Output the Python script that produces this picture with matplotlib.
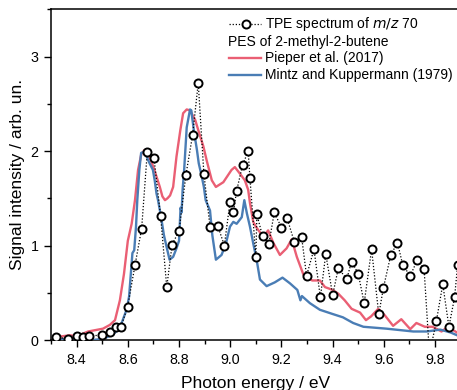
import matplotlib
matplotlib.use("Agg")
import matplotlib.pyplot as plt
from matplotlib.ticker import MultipleLocator, FormatStrFormatter

plt.rcParams['font.family'] = ['Liberation Sans', 'DejaVu Sans']

# TPE spectrum of m/z 70
tpe_x = [8.319, 8.366, 8.400, 8.426, 8.449, 8.498, 8.530, 8.555, 8.573, 8.599,
         8.628, 8.654, 8.676, 8.702, 8.728, 8.752, 8.773, 8.800, 8.827, 8.853,
         8.875, 8.897, 8.921, 8.951, 8.977, 8.999, 9.012, 9.025, 9.048, 9.070,
         9.077, 9.100, 9.104, 9.126, 9.151, 9.172, 9.200, 9.222, 9.250, 9.279,
         9.298, 9.327, 9.352, 9.373, 9.400, 9.422, 9.455, 9.474, 9.500, 9.523,
         9.552, 9.580, 9.598, 9.627, 9.653, 9.674, 9.703, 9.731, 9.757, 9.778,
         9.805, 9.830, 9.854, 9.876, 9.888]
tpe_y = [0.035, 0.01, 0.045, 0.035, 0.045, 0.05, 0.08, 0.14, 0.14, 0.35,
         0.79, 1.18, 1.99, 1.93, 1.31, 0.56, 1.01, 1.155, 1.75, 2.17,
         2.72, 1.76, 1.20, 1.21, 1.00, 1.46, 1.35, 1.58, 1.85, 2.00,
         1.71, 0.88, 1.33, 1.10, 1.02, 1.35, 1.19, 1.29, 1.04, 1.085,
         0.68, 0.96, 0.45, 0.91, 0.475, 0.76, 0.645, 0.83, 0.70, 0.39,
         0.96, 0.27, 0.55, 0.90, 1.03, 0.79, 0.68, 0.85, 0.75, -0.15,
         0.20, 0.59, 0.14, 0.45, 0.79]

# PES, Pieper et al. (2017)
pieper_x = [8.331, 8.374, 8.400, 8.445, 8.503, 8.530, 8.550, 8.569, 8.585, 8.600,
            8.615, 8.628, 8.640, 8.653, 8.665, 8.675, 8.700, 8.725, 8.735, 8.745,
            8.755, 8.765, 8.777, 8.790, 8.805, 8.816, 8.830, 8.843, 8.863, 8.882,
            8.895, 8.908, 8.928, 8.944, 8.973, 9.005, 9.018, 9.038, 9.057, 9.070,
            9.077, 9.090, 9.100, 9.116, 9.128, 9.148, 9.168, 9.194, 9.220, 9.240,
            9.260, 9.286, 9.320, 9.350, 9.370, 9.400, 9.422, 9.447, 9.474, 9.507,
            9.530, 9.550, 9.578, 9.604, 9.636, 9.668, 9.703, 9.727, 9.760, 9.790,
            9.825, 9.850, 9.885]
pieper_y = [0.035, 0.05, 0.04, 0.09, 0.12, 0.16, 0.21, 0.42, 0.70, 1.05,
            1.23, 1.48, 1.80, 1.97, 2.01, 2.00, 1.83, 1.62, 1.52, 1.48,
            1.50, 1.53, 1.62, 1.94, 2.22, 2.40, 2.44, 2.43, 2.33, 2.16,
            2.05, 1.90, 1.69, 1.62, 1.67, 1.80, 1.83, 1.76, 1.69, 1.59,
            1.45, 1.25, 1.20, 1.14, 1.09, 1.16, 1.03, 0.90, 0.97, 1.065,
            0.88, 0.69, 0.63, 0.63, 0.56, 0.53, 0.49, 0.42, 0.33, 0.29,
            0.21, 0.25, 0.33, 0.26, 0.15, 0.22, 0.115, 0.18, 0.14, 0.14,
            0.09, 0.14, 0.08]

# PES, Mintz and Kuppermann (1979)
mintz_x = [8.335, 8.400, 8.460, 8.500, 8.537, 8.555, 8.576, 8.595, 8.605, 8.612,
           8.618, 8.625, 8.632, 8.637, 8.645, 8.652, 8.662, 8.672, 8.685, 8.698,
           8.705, 8.712, 8.718, 8.730, 8.741, 8.751, 8.763, 8.777, 8.790, 8.800,
           8.806, 8.810, 8.814, 8.820, 8.830, 8.843, 8.848, 8.852, 8.860, 8.870,
           8.877, 8.888, 8.897, 8.904, 8.921, 8.930, 8.944, 8.966, 8.983, 8.999,
           9.012, 9.025, 9.045, 9.055, 9.065, 9.077, 9.090, 9.103, 9.116, 9.142,
           9.174, 9.204, 9.233, 9.262, 9.274, 9.280, 9.311, 9.350, 9.400, 9.440,
           9.480, 9.520, 9.610, 9.715, 9.767, 9.820, 9.860, 9.886]
mintz_y = [0.01, 0.0, 0.0, 0.01, 0.05, 0.09, 0.18, 0.32, 0.46, 0.71,
           0.92, 0.95, 1.20, 1.48, 1.80, 1.98, 1.99, 1.95, 1.87, 1.80,
           1.69, 1.55, 1.48, 1.30, 1.11, 0.99, 0.85, 0.88, 0.97, 1.05,
           1.40, 1.35, 1.59, 1.80, 2.25, 2.44, 2.43, 2.34, 2.18, 2.01,
           1.87, 1.74, 1.62, 1.48, 1.37, 1.11, 0.85, 0.90, 1.02, 1.20,
           1.25, 1.23, 1.30, 1.48, 1.34, 1.20, 1.02, 0.85, 0.64, 0.57,
           0.61, 0.66, 0.60, 0.53, 0.42, 0.465, 0.39, 0.32, 0.275, 0.24,
           0.18, 0.14, 0.12, 0.09, 0.09, 0.11, 0.08, 0.05]

labels = ["TPE spectrum of $\\it{m/z}$ 70", "PES of 2-methyl-2-butene",
          "Pieper et al. (2017)", "Mintz and Kuppermann (1979)"]
xlabel = "Photon energy / eV"
ylabel = "Signal intensity / arb. un."

red = '#EA5F74'
blue = '#4A7DB5'

fig = plt.figure(figsize=(4.57, 3.90), dpi=100)
ax = fig.add_axes([51/457, 1 - 340/390, (460.7 - 51)/457, (340 - 9.3)/390])

ax.plot(pieper_x, pieper_y, color=red, lw=1.7, zorder=2)
ax.plot(mintz_x, mintz_y, color=blue, lw=1.7, zorder=3)
ax.plot(tpe_x, tpe_y, color='black', ls=(0, (1, 1.5)), lw=0.9, marker='o',
        ms=5.8, mfc='white', mec='black', mew=1.4, zorder=4)

ax.set_xlim(8.3, 9.9)
ax.set_ylim(0, 3.5)
ax.xaxis.set_major_locator(MultipleLocator(0.2))
ax.xaxis.set_minor_locator(MultipleLocator(0.1))
ax.xaxis.set_major_formatter(FormatStrFormatter('%.1f'))
ax.yaxis.set_major_locator(MultipleLocator(1))
ax.yaxis.set_minor_locator(MultipleLocator(0.5))
ax.tick_params(which='both', direction='out', labelsize=10.3, width=1, top=False, right=False)
ax.tick_params(which='major', length=5, pad=4)
ax.tick_params(which='minor', length=3)
for s in ax.spines.values():
    s.set_linewidth(1.1)
ax.set_xlabel(xlabel, fontsize=12.5, labelpad=7)
ax.set_ylabel(ylabel, fontsize=12.5, labelpad=4)

# legend drawn in axes coordinates
x0, x1, xm, xt = 0.435, 0.513, 0.4757, 0.522
rows = [0.9555, 0.902, 0.852, 0.801]
fs = 10
ax.plot([x0, x1], [rows[0], rows[0]], transform=ax.transAxes, color='black',
        ls=(0, (1, 1.5)), lw=0.9, zorder=5)
ax.plot([xm], [rows[0]], transform=ax.transAxes, marker='o', ms=5.8, mfc='white',
        mec='black', mew=1.4, zorder=6)
ax.text(xt, rows[0], labels[0], transform=ax.transAxes, fontsize=fs, va='center', ha='left')
ax.text(x0 - 0.002, rows[1], labels[1], transform=ax.transAxes, fontsize=fs, va='center', ha='left')
ax.plot([x0, x1], [rows[2], rows[2]], transform=ax.transAxes, color=red, lw=1.7)
ax.text(xt, rows[2], labels[2], transform=ax.transAxes, fontsize=fs, va='center', ha='left')
ax.plot([x0, x1], [rows[3], rows[3]], transform=ax.transAxes, color=blue, lw=1.7)
ax.text(xt, rows[3], labels[3], transform=ax.transAxes, fontsize=fs, va='center', ha='left')

fig.savefig('out.png', dpi=100)
